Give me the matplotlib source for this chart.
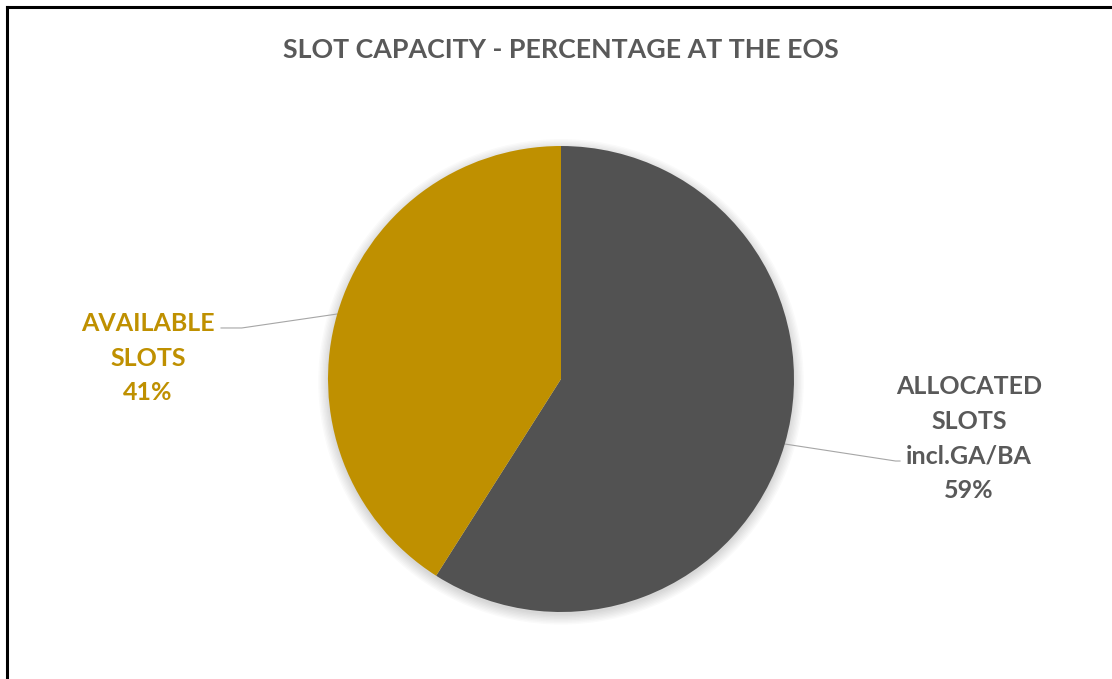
import numpy as np
import matplotlib.pyplot as plt
from matplotlib.lines import Line2D
from matplotlib.patches import Circle

# Slot capacity at end of season
labels = ['ALLOCATED\nSLOTS\nincl.GA/BA', 'AVAILABLE\nSLOTS']
shares = [59, 41]
colors = ['#525252', '#BF9000']
label_colors = ['#595959', '#BF9000']

plt.rcParams['font.family'] = ['Lato', 'DejaVu Sans']

fig = plt.figure(figsize=(11.12, 6.79), dpi=100)
W, H = 1112, 679

# pie axes: centre (561, 379) px, radius 233 px
cx, cy, r = 561, 379, 233
ax = fig.add_axes([(cx - r) / W, (H - cy - r) / H, 2 * r / W, 2 * r / H])

wedges, _ = ax.pie(shares, colors=colors, startangle=90, counterclock=False,
                   radius=1, wedgeprops=dict(linewidth=0))
for w in wedges:
    w.set_zorder(2)
ax.set_xlim(-1, 1)
ax.set_ylim(-1, 1)
ax.set_aspect('equal')
ax.axis('off')

# soft drop shadow under the pie
for k in range(8):
    ax.add_patch(Circle((0, -0.012), 1.0 + 0.006 * k, color='black',
                        alpha=0.018, lw=0, zorder=0, clip_on=False))

# label placement (axes data units) and leader-line elbows
text_pos = [(1.751, -0.255), (-1.773, 0.09)]
elbows = [((1.436, -0.352), (1.455, -0.352)), ((-1.37, 0.219), (-1.459, 0.219))]

for w, lab, share, tc, tp, (e1, e2) in zip(wedges, labels, shares, label_colors,
                                           text_pos, elbows):
    mid = np.deg2rad((w.theta1 + w.theta2) / 2)
    start = (np.cos(mid), np.sin(mid))
    ax.add_line(Line2D([start[0], e1[0], e2[0]], [start[1], e1[1], e2[1]],
                       color='#A6A6A6', lw=0.8, clip_on=False, zorder=1))
    ax.text(tp[0], tp[1], f'{lab}\n{share}%', ha='center', va='center',
            color=tc, fontsize=18, fontweight='bold', linespacing=1.62,
            clip_on=False)

fig.text(561 / W, 1 - 50 / H, 'SLOT CAPACITY - PERCENTAGE AT THE EOS',
         ha='center', va='center', fontsize=19.3, fontweight='bold', color='#595959')

# chart frame (left and top edges visible)
fig.add_artist(Line2D([7 / W, 7 / W], [0, 1 - 7 / H], color='black', lw=2.2))
fig.add_artist(Line2D([7 / W, 1], [1 - 7 / H, 1 - 7 / H], color='black', lw=2.2))

fig.savefig('out.png', dpi=100)
